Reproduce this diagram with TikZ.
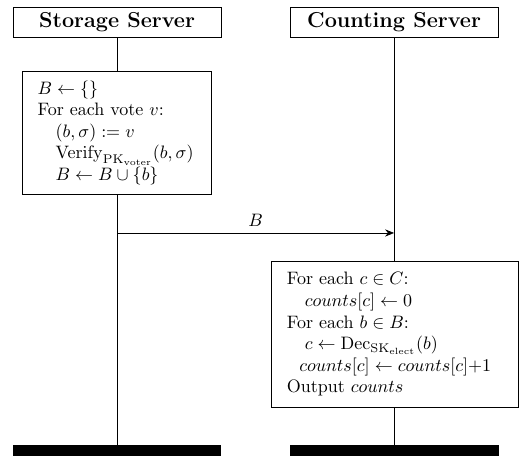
\documentclass[tikz,border=0pt]{standalone}
\usetikzlibrary{arrows.meta}
\begin{document}
\begin{tikzpicture}[x=1pt,y=1pt,
  head/.style={draw, minimum width=115.6pt, minimum height=16.7pt, inner sep=0pt,
    font=\large\bfseries, text height=8.4pt, text depth=2.4pt},
  procbox/.style={draw, fill=white, align=left, inner xsep=8.5pt, inner ysep=3pt, anchor=north west},
  endbar/.style={fill=black, minimum width=116pt, minimum height=12pt, inner sep=0pt, anchor=north},
  msg/.style={-{Stealth[length=5pt,width=4pt]}}]
\useasboundingbox (0,0) rectangle (289.4,-252.8);
\node[head] (hs) at (65,-12.25) {Storage Server};
\node[head] (hc) at (218.9,-12.25) {Counting Server};
\node[endbar] (bs) at (65,-247.2) {};
\node[endbar] (bc) at (218.9,-247.2) {};
\draw (hs.south) -- (bs.north);
\draw (hc.south) -- (bc.north);
\node[procbox, text width=88pt, minimum height=68.4pt] (ps) at (12.2,-39.4) {%
$B \leftarrow \{\}$\\
For each vote $v$:\\
\quad$(b,\sigma) := v$\\
\quad$\mathrm{Verify}_{\mathrm{PK}_{\mathrm{voter}}}(b,\sigma)$\\
\quad$B \leftarrow B \cup \{b\}$};
\node[procbox, text width=120.2pt, minimum height=81.1pt] (pc) at (150.6,-145) {%
For each $c \in C$:\\
\quad$counts[c] \leftarrow 0$\\
For each $b \in B$:\\
\quad$c \leftarrow \mathrm{Dec}_{\mathrm{SK}_{\mathrm{elect}}}(b)$\\
\hspace*{7pt}$counts[c] \leftarrow counts[c]{+}1$\\
Output $counts$};
\coordinate (m1) at (hs.south |- 0,-129.4);
\coordinate (m2) at (hc.south |- 0,-129.4);
\draw[msg] (m1) -- (m2) node[midway, above] {$B$};
\end{tikzpicture}
\end{document}
